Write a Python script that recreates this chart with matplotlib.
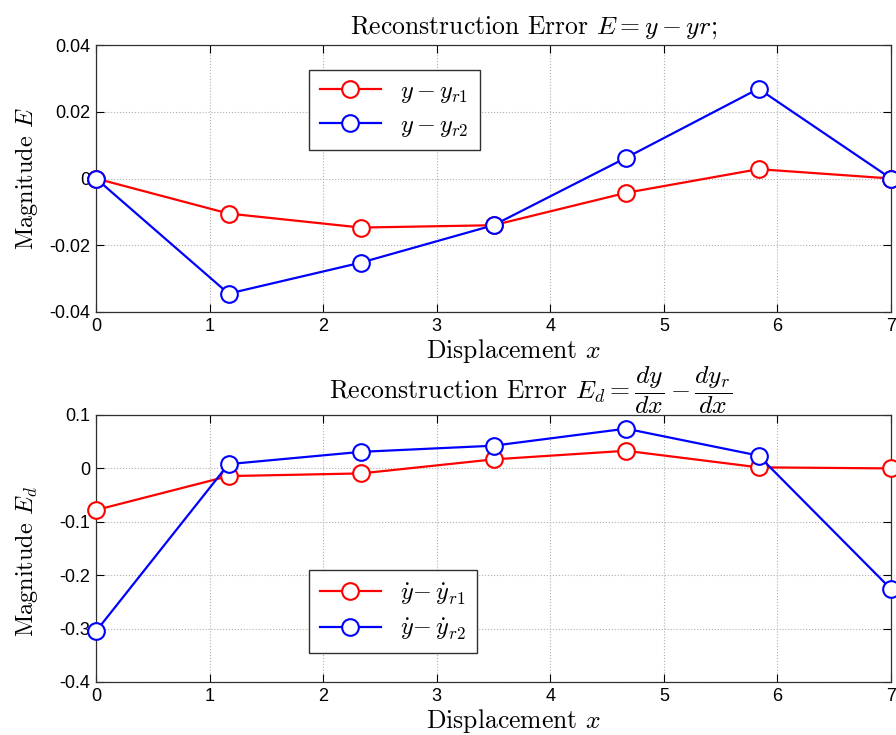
import numpy as np
import matplotlib
matplotlib.use("Agg")
import matplotlib.pyplot as plt

plt.rcParams['mathtext.fontset'] = 'cm'
plt.rcParams['font.family'] = ['Liberation Sans', 'DejaVu Sans']
plt.rcParams['axes.unicode_minus'] = False

x = [0, 7/6, 14/6, 3.5, 28/6, 35/6, 7]
e_r1 = [0.0, -0.0105, -0.0147, -0.0140, -0.0043, 0.0028, 0.0]
e_r2 = [0.0, -0.0345, -0.0252, -0.0140, 0.0062, 0.0269, 0.0]
ed_r1 = [-0.078, -0.0144, -0.0094, 0.0169, 0.033, 0.002, 0.0]
ed_r2 = [-0.305, 0.008, 0.031, 0.0425, 0.0744, 0.024, -0.226]

top_yticks = [-0.04, -0.02, 0, 0.02, 0.04]
top_ylabels = ['-0.04', '-0.02', '0', '0.02', '0.04']
bot_yticks = [-0.4, -0.3, -0.2, -0.1, 0, 0.1]
bot_ylabels = ['-0.4', '-0.3', '-0.2', '-0.1', '0', '0.1']
xticks = [0, 1, 2, 3, 4, 5, 6, 7]

W, H = 896, 735
fig = plt.figure(figsize=(W/100, H/100), dpi=100)

def axes_px(l, t, r, b):
    return fig.add_axes([l/W, 1-b/H, (r-l)/W, (b-t)/H])

ax1 = axes_px(96, 45, 891, 312)
ax2 = axes_px(96, 415, 891, 682)

cm = 'cmr10'
style = dict(marker='o', markersize=12, markerfacecolor='white', markeredgewidth=1.5, linewidth=1.6, clip_on=False, zorder=3)

ax1.plot(x, e_r1, color='#ff0000', label=r'$y - y_{r1}$', **style)
ax1.plot(x, e_r2, color='#0000ff', label=r'$y - y_{r2}$', **style)
ax2.plot(x, ed_r1, color='#ff0000', label=r'$\dot{y}\!-\dot{y}_{r1}$', **style)
ax2.plot(x, ed_r2, color='#0000ff', label=r'$\dot{y}\!-\dot{y}_{r2}$', **style)

for ax, yt, yl, ylim in [(ax1, top_yticks, top_ylabels, (-0.04, 0.04)),
                         (ax2, bot_yticks, bot_ylabels, (-0.4, 0.1))]:
    ax.set_xlim(0, 7)
    ax.set_ylim(*ylim)
    ax.set_xticks(xticks)
    ax.set_xticklabels([str(t) for t in xticks])
    ax.set_yticks(yt)
    ax.set_yticklabels(yl)
    ax.tick_params(direction='in', top=True, right=True, labelsize=13, length=6, width=0.8, pad=4)
    ax.grid(True, linestyle=':', color='#b0b0b0', linewidth=0.8)
    ax.set_axisbelow(True)
    for s in ax.spines.values():
        s.set_linewidth(0.9)
        s.set_color('#303030')
    ax.set_xlabel(r'Displacement $x$', fontsize=18.5, fontfamily=cm, labelpad=0)
    ax.xaxis.set_label_coords(0.525, -0.095)

ax1.set_ylabel(r'Magnitude $E$', fontsize=17.5, fontfamily=cm)
ax1.yaxis.set_label_coords(-0.07, 0.5)
ax2.set_ylabel(r'Magnitude $E_d$', fontsize=17.5, fontfamily=cm)
ax2.yaxis.set_label_coords(-0.07, 0.45)

ax1.set_title(r'Reconstruction Error $E = y - yr;$', fontsize=18.5, fontfamily=cm, x=0.551, pad=8)
ax2.set_title(r'Reconstruction Error $E_d = \dfrac{dy}{dx} - \dfrac{dy_r}{dx}$', fontsize=18.5, fontfamily=cm,
              x=0.547, y=0.995, va='center', pad=0)
ax2.title.set_position((0.547, 1.09))

leg_kw = dict(loc='upper left', fontsize=17.5, frameon=True, fancybox=False, edgecolor='#303030',
              handlelength=2.5, borderpad=0.45, labelspacing=0.4, handletextpad=0.8, borderaxespad=0)
l1 = ax1.legend(bbox_to_anchor=(309/W, 1-70/H), bbox_transform=fig.transFigure, **leg_kw)
l2 = ax2.legend(bbox_to_anchor=(309/W, 1-570/H), bbox_transform=fig.transFigure, **leg_kw)
for l in (l1, l2):
    l.get_frame().set_linewidth(1.0)
    l.get_frame().set_alpha(1)

fig.savefig('out.png', dpi=100)
